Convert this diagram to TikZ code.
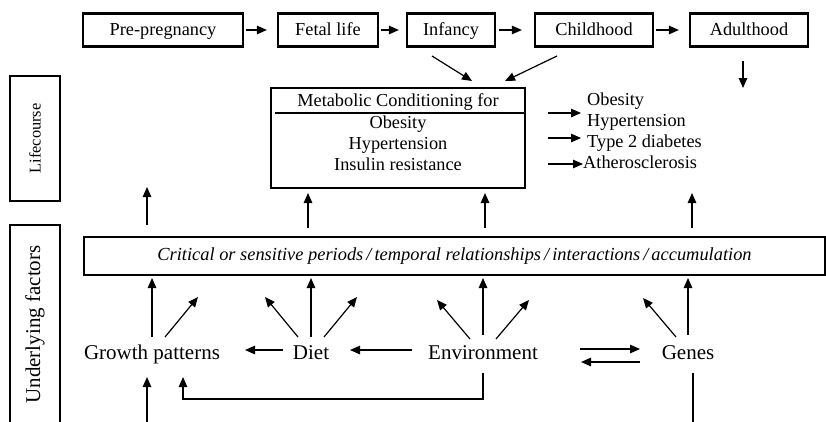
\documentclass[tikz,border=0pt]{standalone}
\usepackage{fontspec}
\setmainfont{Liberation Serif}
\usetikzlibrary{arrows.meta}
\begin{document}
\begin{tikzpicture}[x=1pt,y=-1pt,
  box/.style={draw,line width=2.2pt,inner sep=0pt,minimum height=33pt,text height=13pt,text depth=1.5pt,font=\fontsize{18.3}{20}\selectfont},
  arr/.style={line width=1.2pt,-{Triangle[length=10pt,width=8.5pt]}},
  ln/.style={line width=1.2pt},
  txt/.style={inner sep=0pt,text height=12.5pt,text depth=4pt,font=\fontsize{18.3}{20}\selectfont},
  big/.style={inner sep=0pt,text height=14pt,text depth=4.5pt,font=\fontsize{21}{24}\selectfont},
  side/.style={draw,line width=2.2pt,rotate=90,inner sep=0pt,minimum height=50pt}]
\useasboundingbox (0,0) rectangle (826,421);
% top row
\node[box,minimum width=160pt] (pre) at (163,30) {Pre-pregnancy};
\node[box,minimum width=100pt] (fetal) at (328,30) {Fetal life};
\node[box,minimum width=88pt] (inf) at (451,30) {Infancy};
\node[box,minimum width=118pt] (child) at (594,30) {Childhood};
\node[box,minimum width=118pt] (adult) at (749,30) {Adulthood};
\draw[arr,shorten <=1.5pt,shorten >=10pt] (pre.east) -- (fetal.west);
\draw[arr,shorten <=1.5pt,shorten >=7pt] (fetal.east) -- (inf.west);
\draw[arr,shorten <=2.5pt,shorten >=12pt] (inf.east) -- (child.west);
\draw[arr,shorten <=1.5pt,shorten >=10pt] (child.east) -- (adult.west);
% metabolic box
\node[draw,line width=2.2pt,minimum width=254pt,minimum height=100pt,inner sep=0pt] (meta) at (398,138) {};
\node[txt] (mt) at (398,102) {Metabolic Conditioning for};
\draw[line width=2.2pt] (275,113) -- (meta.east |- 0,113);
\node[txt] (m1) at (398,124) {Obesity};
\node[txt] (m2) at (398,145) {Hypertension};
\node[txt] (m3) at (398,166) {Insulin resistance};
\coordinate (i1) at (432,56); \coordinate (i2) at (472,81);
\coordinate (c1) at (557,56); \coordinate (c2) at (505,81);
\draw[arr] (i1) -- (i2);
\draw[arr] (c1) -- (c2);
\coordinate (a1) at (743,61); \coordinate (a2) at (743,88);
\draw[arr] (a1) -- (a2);
% right list
\node[txt,anchor=west] (o1) at (587,101) {Obesity};
\node[txt,anchor=west] (o2) at (587,122) {Hypertension};
\node[txt,anchor=west] (o3) at (587,143) {Type 2 diabetes};
\node[txt,anchor=west] (o4) at (583,164) {Atherosclerosis};
\coordinate (r1) at (548,113); \coordinate (r1e) at (581,113);
\coordinate (r2) at (548,138); \coordinate (r2e) at (581,138);
\coordinate (r3) at (548,164);
\draw[arr] (r1) -- (r1e);
\draw[arr] (r2) -- (r2e);
\draw[arr] (r3) -- (o4.west);
% side labels
\node[side,minimum width=125pt,font=\fontsize{16.4}{18}\selectfont] (life) at (35,138.5) {Lifecourse};
\node[side,minimum width=199pt,font=\fontsize{21}{24}\selectfont] (under) at (35,324.5) {Underlying factors};
% critical box
\node[draw,line width=2.2pt,minimum width=741pt,minimum height=38pt,inner sep=0pt,font=\fontsize{18.4}{21}\selectfont\itshape] (crit) at (454.5,256) {Critical or sensitive periods\,/\,temporal relationships\,/\,interactions\,/\,accumulation};
% up arrows to lifecourse row
\coordinate (u1) at (147,225); \coordinate (u1e) at (147,187);
\draw[arr] (u1) -- (u1e);
\coordinate (u2e) at (308,193); \coordinate (u3e) at (485,193); \coordinate (u4e) at (692,193);
\draw[arr] (crit.north -| u2e) ++(0,-8) -- (u2e);
\draw[arr] (crit.north -| u3e) ++(0,-8) -- (u3e);
\draw[arr] (crit.north -| u4e) ++(0,-8) -- (u4e);
% bottom row
\node[big] (gp) at (152,355) {Growth patterns};
\node[big] (diet) at (311,355) {Diet};
\node[big] (env) at (483,355) {Environment};
\node[big] (genes) at (688,355) {Genes};
\coordinate (g1) at (152,337); \coordinate (g1e) at (152,278);
\draw[arr] (g1) -- (g1e);
\coordinate (g2) at (165,337); \coordinate (g2e) at (198,297);
\draw[arr] (g2) -- (g2e);
\coordinate (d1) at (298,337); \coordinate (d1e) at (265,297);
\coordinate (d2) at (311,337); \coordinate (d2e) at (311,278);
\coordinate (d3) at (324,337); \coordinate (d3e) at (357,297);
\draw[arr] (d1) -- (d1e);
\draw[arr] (d2) -- (d2e);
\draw[arr] (d3) -- (d3e);
\coordinate (e1) at (470,339); \coordinate (e1e) at (437,300);
\coordinate (e2) at (483,335); \coordinate (e2e) at (483,278);
\coordinate (e3) at (496,339); \coordinate (e3e) at (529,300);
\draw[arr] (e1) -- (e1e);
\draw[arr] (e2) -- (e2e);
\draw[arr] (e3) -- (e3e);
\coordinate (n1) at (676,337); \coordinate (n1e) at (643,298);
\coordinate (n2) at (688,335); \coordinate (n2e) at (688,278);
\draw[arr] (n1) -- (n1e);
\draw[arr] (n2) -- (n2e);
% horizontal arrows
\coordinate (h1) at (283,350); \coordinate (h1e) at (245,350);
\draw[arr] (h1) -- (h1e);
\coordinate (h2) at (412,350); \coordinate (h2e) at (350,350);
\draw[arr] (h2) -- (h2e);
\coordinate (k1) at (580,349); \coordinate (k1e) at (640,349);
\coordinate (k2) at (640,362); \coordinate (k2e) at (581,362);
\draw[arr] (k1) -- (k1e);
\draw[arr] (k2) -- (k2e);
% environment elbow
\coordinate (eb) at (483,373); \coordinate (ebe) at (183,377);
\draw[arr] (eb) |- (183,399) -- (ebe);
% bottom lines
\coordinate (gb) at (147,425); \coordinate (gbe) at (147,377);
\draw[arr] (gb) -- (gbe);
\coordinate (nb) at (693,373); \coordinate (nbe) at (693,425);
\draw[ln] (nb) -- (nbe);
\end{tikzpicture}
\end{document}
